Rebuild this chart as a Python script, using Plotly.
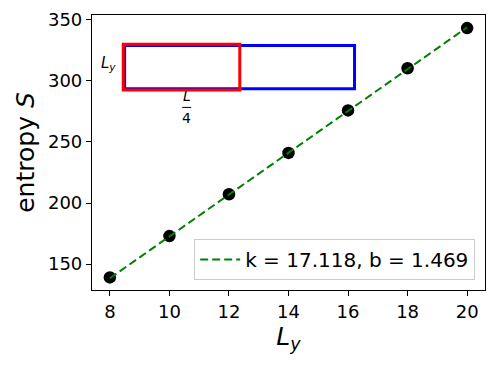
import plotly.graph_objects as go

# data
L_y = [8, 10, 12, 14, 16, 18, 20]
entropy = [139.1, 172.9, 207.2, 241.0, 275.8, 310.3, 343.2]
fit_x = [8, 20]
fit_y = [138.4, 343.8]
fit_label = "k = 17.118, b = 1.469"
x_ticks = [8, 10, 12, 14, 16, 18, 20]
y_ticks = [150, 200, 250, 300, 350]

FONT = "DejaVu Sans"

fig = go.Figure()
fig.add_trace(go.Scatter(x=L_y, y=entropy, mode="markers",
                         marker=dict(color="black", size=12.5), showlegend=False))
fig.add_trace(go.Scatter(x=fit_x, y=fit_y, mode="lines",
                         line=dict(color="green", width=2, dash="8px,4px"),
                         name=fit_label))

# inset sketch (plot-area fraction coordinates)
fig.add_shape(type="rect", xref="paper", yref="paper",
              x0=0.083, x1=0.668, y0=0.732, y1=0.889,
              line=dict(color="blue", width=3))
fig.add_shape(type="rect", xref="paper", yref="paper",
              x0=0.0795, x1=0.376, y0=0.727, y1=0.894,
              line=dict(color="red", width=3))
fig.add_shape(type="line", xref="paper", yref="paper",
              x0=0.2296, x1=0.2525, y0=0.664, y1=0.664,
              line=dict(color="black", width=1))
fig.add_annotation(xref="paper", yref="paper", x=0.041, y=0.824,
                   text="<i>L<sub>y</sub></i>", showarrow=False,
                   xanchor="center", yanchor="middle",
                   font=dict(family=FONT, size=15, color="black"))
fig.add_annotation(xref="paper", yref="paper", x=0.241, y=0.668,
                   text="<i>L</i>", showarrow=False,
                   xanchor="center", yanchor="bottom",
                   font=dict(family=FONT, size=14, color="black"))
fig.add_annotation(xref="paper", yref="paper", x=0.241, y=0.660,
                   text="4", showarrow=False,
                   xanchor="center", yanchor="top",
                   font=dict(family=FONT, size=14, color="black"))

axis_common = dict(showline=True, linecolor="black", linewidth=1.2, mirror=True,
                   ticks="outside", ticklen=5, tickwidth=1.2, tickcolor="black",
                   showgrid=False, zeroline=False, automargin=False,
                   tickfont=dict(family=FONT, size=18, color="black"))

# page body adds an 8px margin, so the figure is sized/margined to compensate
fig.update_layout(
    width=490, height=361,
    margin=dict(l=84, r=13, t=7, b=79),
    paper_bgcolor="white", plot_bgcolor="white",
    xaxis=dict(range=[7.4, 20.6], tickvals=x_ticks,
               title=dict(text="<i>L<sub>y</sub></i>", standoff=4,
                          font=dict(family=FONT, size=25, color="black")),
               **axis_common),
    yaxis=dict(range=[128.8, 353.9], tickvals=y_ticks,
               title=dict(text="entropy <i>S</i>", standoff=6,
                          font=dict(family=FONT, size=25, color="black")),
               **axis_common),
    legend=dict(x=0.975, y=0.036, xanchor="right", yanchor="bottom",
                itemwidth=40,
                bordercolor="#cccccc", borderwidth=1, bgcolor="white",
                font=dict(family=FONT, size=20, color="black")),
)

fig.write_html("out.html")
